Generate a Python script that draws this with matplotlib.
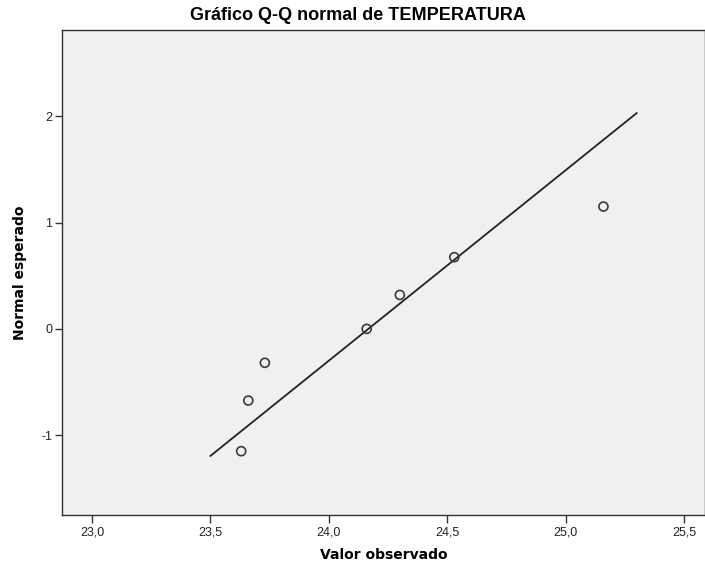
import numpy as np
import matplotlib
matplotlib.use('Agg')
import matplotlib.pyplot as plt
import matplotlib.ticker as ticker

valor_observado = [23.63, 23.66, 23.73, 24.16, 24.30, 24.53, 25.16]
normal_esperado = [-1.150, -0.674, -0.319, 0.0, 0.319, 0.674, 1.150]
linea_x = [23.50, 25.30]

x_ticks = [23.0, 23.5, 24.0, 24.5, 25.0, 25.5]
y_ticks = [-1, 0, 1, 2]

plt.rcParams['font.family'] = ['Liberation Sans', 'DejaVu Sans']

fig = plt.figure(figsize=(7.05, 5.63), dpi=100)
ax = fig.add_axes([62 / 705, 48 / 563, 643 / 705, 485 / 563])
ax.set_facecolor('#f0f0f0')

media = np.mean(valor_observado)
desv = np.std(valor_observado, ddof=1)
lx = np.array(linea_x)
ax.plot(lx, (lx - media) / desv, color='#222222', lw=1.3)

ax.scatter(valor_observado, normal_esperado, s=42, facecolors='none',
           edgecolors='#3a3a3a', linewidths=1.2, zorder=3)

ax.set_xlim(22.873, 25.589)
ax.set_ylim(-1.75, 2.81)
ax.xaxis.set_major_locator(ticker.FixedLocator(x_ticks))
ax.yaxis.set_major_locator(ticker.FixedLocator(y_ticks))
ax.xaxis.set_major_formatter(ticker.FuncFormatter(lambda v, p: f'{v:.1f}'.replace('.', ',')))
ax.yaxis.set_major_formatter(ticker.FuncFormatter(lambda v, p: f'{int(v)}'))

for s in ['left', 'bottom', 'top', 'right']:
    ax.spines[s].set_color('#333333')
    ax.spines[s].set_linewidth(1.0)

ax.tick_params(axis='x', direction='out', length=6, width=1.0,
               color='#333333', labelsize=9, labelcolor='#222222', pad=2)
ax.tick_params(axis='y', direction='out', length=5, width=1.0,
               color='#333333', labelsize=9, labelcolor='#222222', pad=2)

# el título está centrado en el gráfico original, no en los ejes
fig.text(358 / 705, 1 - 15 / 563, 'Gráfico Q-Q normal de TEMPERATURA',
         fontsize=13, fontweight='bold', ha='center', va='center')
ax.set_xlabel('Valor observado', fontsize=10, fontweight='bold', labelpad=7,
              family=['DejaVu Sans'])
ax.set_ylabel('Normal esperado', fontsize=10, fontweight='bold', labelpad=10,
              family=['DejaVu Sans'])

fig.savefig('out.png', dpi=100)
